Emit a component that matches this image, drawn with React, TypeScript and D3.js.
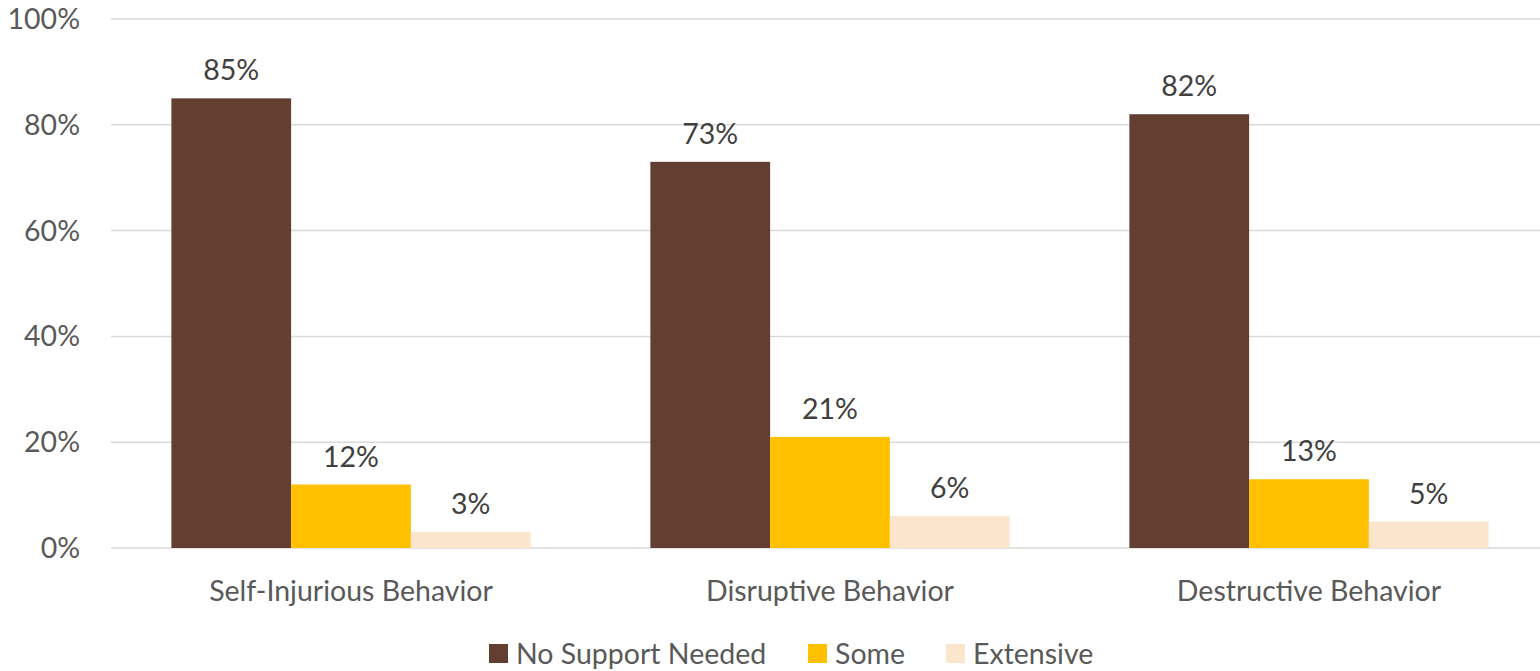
import React from "react";
import * as d3 from "d3";

const categories = ["Self-Injurious Behavior", "Disruptive Behavior", "Destructive Behavior"];
const seriesNames = ["No Support Needed", "Some", "Extensive"];
const noSupport = [85, 73, 82];
const some = [12, 21, 13];
const extensive = [3, 6, 5];
const yTicks = [0, 20, 40, 60, 80, 100];
const colors = ["#633F32", "#FFC000", "#FBE5CD"];

const W = 1540;
const H = 671;
const FONT = "Lato, 'Open Sans', sans-serif";
const FS = 28.5;

export default function App() {
  const series = [noSupport, some, extensive];
  const x0 = d3.scaleBand<string>().domain(categories).range([111.5, 1548.5]).paddingInner(0).paddingOuter(0);
  const x1 = d3
    .scaleBand<string>()
    .domain(seriesNames)
    .range([0, x0.bandwidth()])
    .paddingOuter(0.5)
    .paddingInner(0);
  const y = d3.scaleLinear().domain([0, 100]).range([548, 19]);

  const legendX = [489, 808, 946];

  return (
    <div style={{ position: "absolute", left: 0, top: 0 }}>
      <svg width={W} height={H} style={{ display: "block", background: "#fff" }}>
        {yTicks.map((t) => (
          <g key={t}>
            <line x1={111} x2={W} y1={y(t)} y2={y(t)} stroke="#D9D9D9" strokeWidth={1.5} />
            <text
              x={80}
              y={y(t)}
              dy="0.35em"
              textAnchor="end"
              fontFamily={FONT}
              fontSize={FS}
              fill="#595959"
            >
              {t}%
            </text>
          </g>
        ))}
        {categories.map((c, ci) => (
          <g key={c} transform={`translate(${x0(c)},0)`}>
            {seriesNames.map((s, si) => {
              const v = series[si][ci];
              const bx = x1(s)!;
              return (
                <g key={s}>
                  <rect x={bx} y={y(v)} width={x1.bandwidth()} height={y(0) - y(v)} fill={colors[si]} />
                  <text
                    x={bx + x1.bandwidth() / 2}
                    y={y(v) - 18}
                    textAnchor="middle"
                    fontFamily={FONT}
                    fontSize={FS}
                    fill="#404040"
                  >
                    {v}%
                  </text>
                </g>
              );
            })}
            <text
              x={x0.bandwidth() / 2}
              y={601}
              textAnchor="middle"
              fontFamily={FONT}
              fontSize={FS}
              fill="#595959"
            >
              {c}
            </text>
          </g>
        ))}
        {seriesNames.map((s, i) => (
          <g key={s}>
            <rect x={legendX[i]} y={644} width={19} height={19} fill={colors[i]} />
            <text x={legendX[i] + 27} y={664} fontFamily={FONT} fontSize={FS} fill="#595959">
              {s}
            </text>
          </g>
        ))}
      </svg>
    </div>
  );
}
